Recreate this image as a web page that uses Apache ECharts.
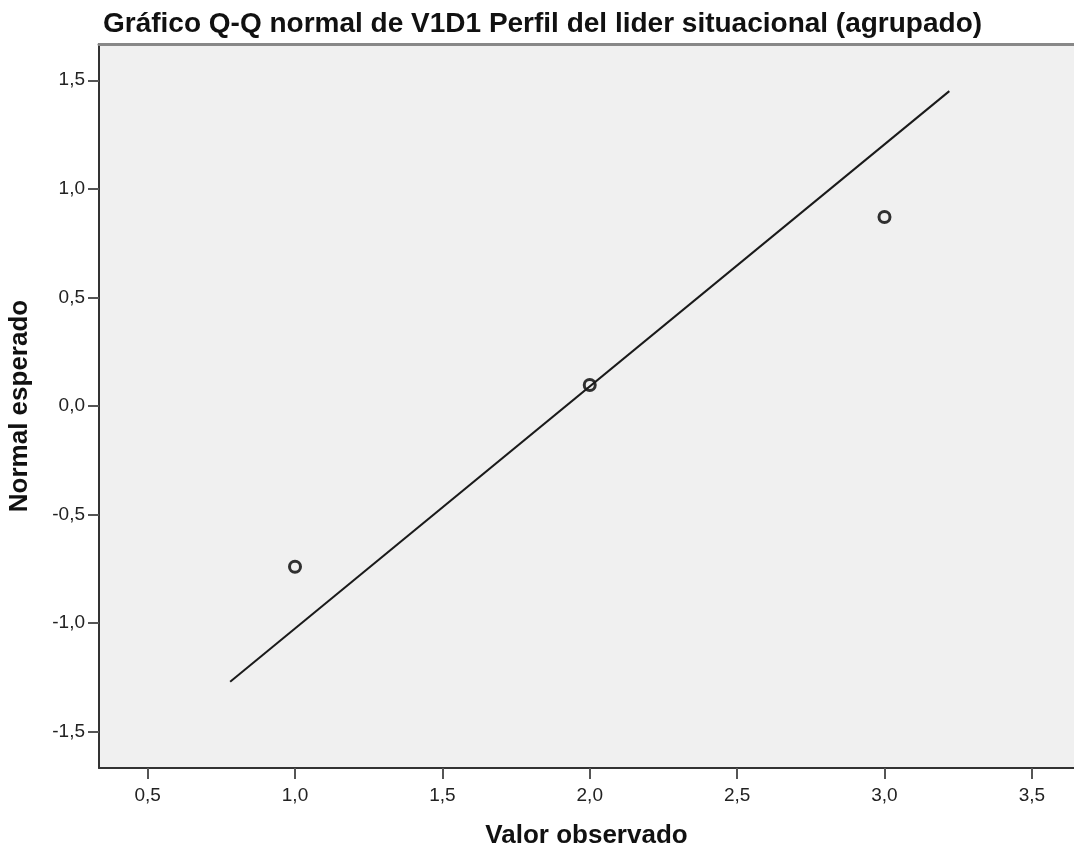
<!DOCTYPE html>
<html>
<head>
<meta charset="utf-8">
<script src="https://cdn.jsdelivr.net/npm/echarts@6/dist/echarts.min.js"></script>
<style>
html,body{margin:0;padding:0;background:#fff;}
#chart{width:1074px;height:845px;}
</style>
</head>
<body>
<div id="chart"></div>
<script>
// Data
var observedValues = [1, 2, 3];
var expectedNormal = [-0.74, 0.097, 0.87];
var refLineX = [0.78, 3.22];
var refLineY = [-1.27, 1.45];
var xTickValues = [0.5, 1.0, 1.5, 2.0, 2.5, 3.0, 3.5];
var yTickValues = [-1.5, -1.0, -0.5, 0.0, 0.5, 1.0, 1.5];

var fmt = function (v) { return Number(v).toFixed(1).replace('.', ','); };

var chart = echarts.init(document.getElementById('chart'));
var pts = observedValues.map(function (x, i) { return [x, expectedNormal[i]]; });
var linePts = refLineX.map(function (x, i) { return [x, refLineY[i]]; });

chart.setOption({
  animation: false,
  backgroundColor: '#ffffff',
  title: {
    text: 'Gráfico Q-Q normal de V1D1 Perfil del lider situacional (agrupado)',
    left: 98,
    top: 5,
    textStyle: { fontFamily: 'Liberation Sans', fontWeight: 'bold', fontSize: 28, color: '#111' }
  },
  grid: { left: 99, right: 0, top: 44, bottom: 77, show: true, backgroundColor: '#f0f0f0', borderWidth: 0, containLabel: false, outerBoundsMode: 'none' },
  xAxis: [{
    type: 'value', min: 0.335, max: 3.643,
    position: 'bottom',
    name: 'Valor observado', nameLocation: 'middle', nameGap: 55,
    nameTextStyle: { fontFamily: 'Liberation Sans', fontWeight: 'bold', fontSize: 26, color: '#111' },
    axisLine: { show: true, onZero: false, lineStyle: { color: '#333', width: 2 } },
    axisTick: { show: true, length: 11, inside: false, customValues: xTickValues, lineStyle: { color: '#555', width: 2 } },
    axisLabel: { customValues: xTickValues, formatter: fmt, fontFamily: 'Liberation Sans', fontSize: 19, color: '#222', margin: 18 },
    splitLine: { show: false }
  }, {
    type: 'value', min: 0.335, max: 3.643, position: 'top',
    axisLine: { show: true, onZero: false, lineStyle: { color: '#888', width: 3 } },
    axisTick: { show: false }, axisLabel: { show: false }, splitLine: { show: false }
  }],
  yAxis: {
    type: 'value', min: -1.667, max: 1.667,
    name: 'Normal esperado', nameLocation: 'middle', nameGap: 66, nameRotate: 90,
    nameTextStyle: { fontFamily: 'Liberation Sans', fontWeight: 'bold', fontSize: 26, color: '#111' },
    axisLine: { show: true, onZero: false, lineStyle: { color: '#333', width: 2 } },
    axisTick: { show: true, length: 11, customValues: yTickValues, lineStyle: { color: '#555', width: 2 } },
    axisLabel: { customValues: yTickValues, formatter: fmt, fontFamily: 'Liberation Sans', fontSize: 19, color: '#222', margin: 14 },
    splitLine: { show: false }
  },
  series: [{
    type: 'line', data: linePts, symbol: 'none',
    lineStyle: { color: '#1a1a1a', width: 2 }, silent: true
  }, {
    type: 'scatter', data: pts, symbol: 'circle', symbolSize: 11,
    itemStyle: { color: 'rgba(0,0,0,0)', borderColor: '#000', borderWidth: 3 }
  }]
});
</script>
</body>
</html>
